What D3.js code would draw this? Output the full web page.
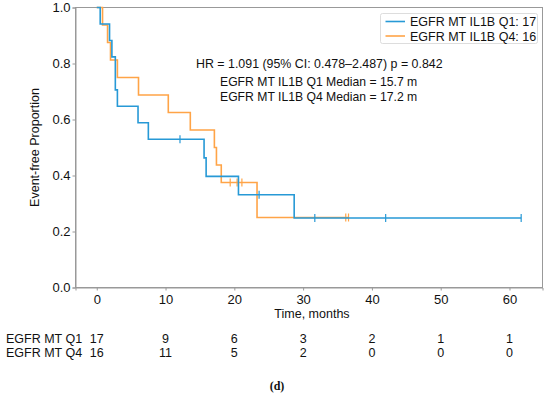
<!DOCTYPE html>
<html>
<head>
<meta charset="utf-8">
<script src="https://cdnjs.cloudflare.com/ajax/libs/d3/7.8.5/d3.min.js"></script>
<style>
  body { margin: 0; background: #fff; }
  svg text { font-family: "Liberation Sans", Arial, sans-serif; fill: #111; }
</style>
</head>
<body>
<div id="chart"></div>
<script>
// Kaplan-Meier steps: [time, survival after step]
var q1Steps = [[0, 1], [0.5, 16/17], [1.86, 15/17], [2.2, 14/17], [2.7, 12/17], [3.0, 11/17],
    [6.0, 10/17], [7.5, 9/17], [15.6, 0.463], [15.9, 0.397], [20.6, 0.331], [28.7, 0.248]];
var q1End = 61.7;
var q1Censor = [[12.1, 9/17], [23.6, 0.331], [31.7, 0.248], [42.0, 0.248], [61.7, 0.248]];

var q4Steps = [[0, 1], [0.84, 15/16], [1.57, 14/16], [2.0, 13/16], [3.0, 12/16], [6.07, 11/16],
    [10.4, 10/16], [13.6, 9/16], [17.1, 8/16], [17.4, 7/16], [18.1, 6/16], [23.3, 0.25]];
var q4End = 36.6;
var q4Censor = [[19.4, 0.375], [20.4, 0.375], [21.1, 0.375], [36.2, 0.25], [36.6, 0.25]];

var xTicks = [0, 10, 20, 30, 40, 50, 60];
var yTicks = [0.0, 0.2, 0.4, 0.6, 0.8, 1.0];
var riskQ1 = [17, 9, 6, 3, 2, 1, 1];
var riskQ4 = [16, 11, 5, 2, 0, 0, 0];
var legendLabels = ["EGFR MT IL1B Q1: 17", "EGFR MT IL1B Q4: 16"];
var annotations = ["HR = 1.091 (95% CI: 0.478\u20132.487) p = 0.842",
    "EGFR MT IL1B Q1 Median = 15.7 m", "EGFR MT IL1B Q4 Median = 17.2 m"];
var riskLabels = ["EGFR MT Q1", "EGFR MT Q4"];

var blue = "#2799d6", orange = "#ffa447", axisGray = "#999";

var W = 550, H = 397;
var m = {left: 75.5, right: 542.5, top: 7.5, bottom: 287.5};

var svg = d3.select("#chart").append("svg").attr("width", W).attr("height", H);

var x = d3.scaleLinear().domain([-3.09, 64.8]).range([m.left, m.right]);
var y = d3.scaleLinear().domain([0, 1]).range([m.bottom, m.top]);

// frame
svg.append("rect").attr("x", m.left).attr("y", m.top)
    .attr("width", m.right - m.left).attr("height", m.bottom - m.top)
    .attr("fill", "none").attr("stroke", axisGray).attr("stroke-width", 1);

// axes
var xAxis = svg.append("g").attr("transform", "translate(0," + m.bottom + ")")
    .call(d3.axisBottom(x).tickValues(xTicks).tickSize(3).tickPadding(4));
var yAxis = svg.append("g").attr("transform", "translate(" + m.left + ",0)")
    .call(d3.axisLeft(y).tickValues(yTicks).tickSize(3).tickPadding(2).tickFormat(d3.format(".1f")));
[xAxis, yAxis].forEach(function(a) {
    a.select(".domain").attr("stroke", axisGray);
    a.selectAll(".tick line").attr("stroke", axisGray);
    a.selectAll("text").style("font-size", "13px").attr("fill", "#111")
        .style("font-family", "'Liberation Sans', Arial, sans-serif");
});

svg.append("text").attr("x", (m.left + m.right) / 2 + 3).attr("y", 317.5)
    .attr("text-anchor", "middle").style("font-size", "12.5px").text("Time, months");
svg.append("text").attr("transform", "translate(39," + ((m.top + m.bottom) / 2) + ") rotate(-90)")
    .attr("text-anchor", "middle").style("font-size", "12.5px").text("Event-free Proportion");

// curves
function stepPath(steps, end) {
    var pts = steps.slice();
    pts.push([end, steps[steps.length - 1][1]]);
    return d3.line().x(function(d) { return x(d[0]); }).y(function(d) { return y(d[1]); })
        .curve(d3.curveStepAfter)(pts);
}

function drawCurve(steps, end, censor, color) {
    var g = svg.append("g");
    g.append("path").attr("d", stepPath(steps, end))
        .attr("fill", "none").attr("stroke", color).attr("stroke-width", 1.6);
    g.selectAll("line.censor").data(censor).enter().append("line")
        .attr("class", "censor")
        .attr("x1", function(d) { return x(d[0]); }).attr("x2", function(d) { return x(d[0]); })
        .attr("y1", function(d) { return y(d[1]) - 4; }).attr("y2", function(d) { return y(d[1]) + 4; })
        .attr("stroke", color).attr("stroke-width", 1.2);
}
drawCurve(q4Steps, q4End, q4Censor, orange);
drawCurve(q1Steps, q1End, q1Censor, blue);

// legend
var leg = svg.append("g");
leg.append("rect").attr("x", 380.5).attr("y", 13.5).attr("width", 157).attr("height", 30)
    .attr("rx", 2).attr("fill", "#fff").attr("stroke", "#ddd");
[blue, orange].forEach(function(c, i) {
    var yy = 21.5 + i * 14.5;
    leg.append("line").attr("x1", 385.5).attr("x2", 405).attr("y1", yy).attr("y2", yy)
        .attr("stroke", c).attr("stroke-width", 1.6);
    leg.append("text").attr("x", 410).attr("y", yy + 4.5).style("font-size", "12.5px").text(legendLabels[i]);
});

// annotations
svg.append("text").attr("x", 196).attr("y", 68).style("font-size", "12.4px").text(annotations[0]);
svg.append("text").attr("x", 220).attr("y", 86).style("font-size", "12.2px").text(annotations[1]);
svg.append("text").attr("x", 220).attr("y", 101).style("font-size", "12.2px").text(annotations[2]);

// number at risk table
[riskQ1, riskQ4].forEach(function(row, i) {
    var yy = 343 + i * 14;
    svg.append("text").attr("x", 6).attr("y", yy).style("font-size", "12.5px").text(riskLabels[i]);
    svg.selectAll(null).data(row).enter().append("text")
        .attr("x", function(d, j) { return x(xTicks[j]); }).attr("y", yy)
        .attr("text-anchor", "middle").style("font-size", "12.5px").text(function(d) { return d; });
});

svg.append("text").attr("x", 277).attr("y", 390).attr("text-anchor", "middle")
    .style("font-family", "'Liberation Serif', 'Times New Roman', serif").style("font-weight", "bold")
    .style("font-size", "12px").text("(d)");
</script>
</body>
</html>
